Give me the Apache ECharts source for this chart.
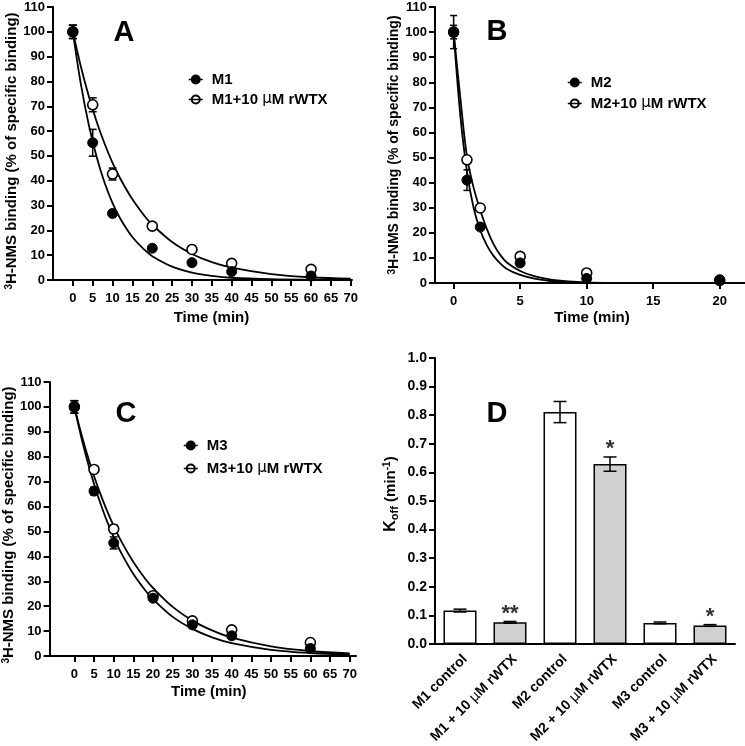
<!DOCTYPE html>
<html><head><meta charset="utf-8">
<script src="https://cdn.jsdelivr.net/npm/echarts@6/dist/echarts.min.js"></script>
<style>html,body{margin:0;padding:0;background:#fff}#c{width:745px;height:746px}</style>
</head><body><div id="c"></div>
<script>
// ---------- Panel A (M1) ----------
const timeAC = [0, 5, 10, 20, 30, 40, 60];
const m1 = [100, 55.3, 26.8, 12.8, 7.0, 3.4, 1.6];
const m1Err = [2.7, 5.4, 0, 0, 0, 0, 0];
const m1Wtx = [100, 70.6, 42.7, 21.7, 12.3, 6.7, 4.3];
const m1WtxErr = [2.7, 2.8, 2.4, 1.2, 0, 0, 0];
const fitTimeAC = [0, 2, 4, 6, 8, 10, 12, 15, 18, 20, 25, 30, 35, 40, 50, 60, 70];
const m1Fit = [100, 79.1, 62.6, 49.6, 39.2, 31.0, 24.6, 17.3, 12.2, 9.6, 5.4, 3.0, 1.7, 0.9, 0.3, 0.1, 0.0];
const m1WtxFit = [100, 86.1, 74.1, 63.8, 54.9, 47.2, 40.7, 32.5, 25.9, 22.3, 15.3, 10.5, 7.2, 5.0, 2.4, 1.1, 0.5];

// ---------- Panel B (M2) ----------
const timeB = [0, 1, 2, 5, 10, 20];
const m2 = [100, 41, 22.3, 8.0, 1.8, 1.3];
const m2Err = [2.7, 4.1, 0, 0, 0, 0];
const m2Wtx = [100, 49.1, 29.9, 10.6, 4.0, 1.0];
const m2WtxErr = [6.6, 0, 0, 0, 0, 0];
const fitTimeB = [0, 0.5, 1, 1.5, 2, 2.5, 3, 3.5, 4, 5, 6, 7, 8, 9, 10, 12];
const m2Fit = [100, 67, 44.5, 30, 21, 15, 10.8, 7.8, 5.6, 3.2, 1.8, 1.0, 0.5, 0.25, 0.1, 0];
const m2WtxFit = [100, 74, 50.5, 38, 29, 21.5, 15.5, 11.2, 8.2, 4.8, 2.8, 1.6, 0.9, 0.5, 0.25, 0.05];

// ---------- Panel C (M3) ----------
const m3 = [100, 66.2, 45.4, 23.2, 12.5, 8.1, 3.0];
const m3Err = [2.5, 1.5, 2.4, 0, 0, 0, 0];
const m3Wtx = [100, 74.9, 51.0, 24.2, 14.1, 10.5, 5.4];
const m3WtxErr = [2.5, 0, 1.5, 0, 0, 0, 0];
const m3Fit = [100, 86.2, 74.4, 64.1, 55.3, 47.7, 41.1, 32.9, 26.4, 22.8, 15.7, 10.9, 7.5, 5.2, 2.5, 1.2, 0.6];
const m3WtxFit = [100, 87.8, 77.1, 67.7, 59.5, 52.2, 45.8, 37.7, 31.0, 27.3, 19.7, 14.2, 10.3, 7.4, 3.9, 2.0, 1.0];

// ---------- Panel D (Koff) ----------
const koffCats = ['M1 control', 'M1 + 10 μM rWTX', 'M2 control', 'M2 + 10 μM rWTX', 'M3 control', 'M3 + 10 μM rWTX'];
const koffVals = [0.117, 0.076, 0.811, 0.629, 0.074, 0.065];
const koffErr = [0.005, 0.003, 0.037, 0.025, 0.003, 0.003];
const koffStars = ['', '**', '', '*', '', '*'];

const timeTicksAC = [0, 5, 10, 15, 20, 25, 30, 35, 40, 45, 50, 55, 60, 65, 70];
const timeTicksB = [0, 5, 10, 15, 20];

const FONT = "'Liberation Sans', Arial, sans-serif";
const BLACK = '#000';

function pairs(xs, ys) { return xs.map((x, i) => [x, ys[i]]); }
function errTriples(xs, ys, es) { return xs.map((x, i) => [x, ys[i], es[i]]).filter(d => d[2] > 0); }

function errRender(capHalf) {
  return function (params, api) {
    const x = api.value(0), y = api.value(1), e = api.value(2);
    const p1 = api.coord([x, y + e]), p2 = api.coord([x, y - e]);
    const st = { stroke: BLACK, lineWidth: 1.5 };
    return { type: 'group', children: [
      { type: 'line', shape: { x1: p1[0], y1: p1[1], x2: p2[0], y2: p2[1] }, style: st },
      { type: 'line', shape: { x1: p1[0] - capHalf, y1: p1[1], x2: p1[0] + capHalf, y2: p1[1] }, style: st },
      { type: 'line', shape: { x1: p2[0] - capHalf, y1: p2[1], x2: p2[0] + capHalf, y2: p2[1] }, style: st }
    ]};
  };
}

function timeAxis(gi, min, max, ticks, gap, padLeft) {
  return {
    type: 'value', gridIndex: gi, min: min, max: max,
    splitLine: { show: false },
    axisLine: { show: true, onZero: false, lineStyle: { color: BLACK, width: 2 } },
    axisTick: { show: true, customValues: ticks, length: 6, lineStyle: { color: BLACK, width: 2 } },
    axisLabel: { customValues: ticks, margin: 12, color: BLACK, fontSize: 13, fontWeight: 'bold', fontFamily: FONT },
    name: 'Time (min)', nameLocation: 'middle', nameGap: gap,
    nameTextStyle: { color: BLACK, fontSize: 15, fontWeight: 'bold', fontFamily: FONT, padding: [0, 0, 0, padLeft] }
  };
}
function bindAxis(gi, gap, fs, padRight) {
  return {
    type: 'value', gridIndex: gi, min: 0, max: 110, interval: 10,
    splitLine: { show: false },
    axisLine: { show: true, onZero: false, lineStyle: { color: BLACK, width: 2 } },
    axisTick: { show: true, length: 6, lineStyle: { color: BLACK, width: 2 } },
    axisLabel: { margin: 8, color: BLACK, fontSize: 13, fontWeight: 'bold', fontFamily: FONT },
    name: '{s|3}{t|H-NMS binding (% of specific binding)}', nameLocation: 'middle', nameGap: gap,
    nameTextStyle: { color: BLACK, fontSize: fs, fontWeight: 'bold', fontFamily: FONT, padding: [0, padRight, 0, 0],
      rich: { s: { fontSize: 10, fontWeight: 'bold', fontFamily: FONT, color: BLACK, verticalAlign: 'top', lineHeight: fs },
              t: { fontSize: fs, fontWeight: 'bold', fontFamily: FONT, color: BLACK, lineHeight: fs } } }
  };
}
function fitSeries(name, gi, xs, ys) {
  return { type: 'line', name: name, xAxisIndex: gi, yAxisIndex: gi, data: pairs(xs, ys), smooth: 0.35,
    showSymbol: false, symbol: 'none', silent: true, lineStyle: { color: BLACK, width: 1.8 }, z: 2 };
}
function errSeries(gi, xs, ys, es, cap) {
  return { type: 'custom', xAxisIndex: gi, yAxisIndex: gi, data: errTriples(xs, ys, es), renderItem: errRender(cap), silent: true, z: 3,
    encode: { x: 0, y: 1 } };
}
function ptSeries(name, gi, xs, ys, open) {
  return { type: 'line', name: name, xAxisIndex: gi, yAxisIndex: gi, data: pairs(xs, ys), symbol: 'circle', symbolSize: 10, showSymbol: true,
    lineStyle: { width: 0, opacity: 0 }, z: open ? 4 : 5,
    itemStyle: open ? { color: '#fff', borderColor: BLACK, borderWidth: 1.6 } : { color: BLACK, borderColor: BLACK, borderWidth: 1 } };
}
function mkLegend(names, left, top, gap) {
  return { orient: 'vertical', left: left, top: top, itemGap: gap, itemWidth: 14, itemHeight: 10, padding: 0, selectedMode: false,
    data: names.map((n, i) => i === 1 ? { name: n, itemStyle: { color: 'rgba(255,255,255,0)' } } : { name: n }),
    lineStyle: { color: BLACK, width: 1.5, opacity: 1 },
    formatter: n => n.replace('μ', '{mu|μ}'),
    textStyle: { color: BLACK, fontSize: 15, fontWeight: 'bold', fontFamily: FONT, padding: [0, 0, 0, 4],
      rich: { mu: { fontSize: 15, fontWeight: 'normal', fontFamily: 'DejaVu Sans', color: BLACK } } } };
}
function letter(t, x, y) {
  return { type: 'text', x: x, y: y, style: { text: t, align: 'center', verticalAlign: 'middle', fontSize: 29, fontWeight: 'bold', fontFamily: FONT, fill: BLACK } };
}

const chart = echarts.init(document.getElementById('c'), null, { renderer: 'canvas' });
const option = {
  animation: false,
  backgroundColor: '#fff',
  grid: [
    { left: 53, top: 7, width: 299, height: 273 },
    { left: 435, top: 7, width: 310, height: 276 },
    { left: 48, top: 382, width: 308, height: 274 },
    { left: 435, top: 358, width: 300, height: 292 }
  ],
  xAxis: [
    timeAxis(0, -5, 70.3, timeTicksAC, 30, 18),
    timeAxis(1, -1.4, 21.9, timeTicksB, 27, 4),
    timeAxis(2, -6.3, 71.6, timeTicksAC, 28, 12),
    { type: 'category', gridIndex: 3, data: koffCats,
      axisLine: { show: true, lineStyle: { color: BLACK, width: 2 } },
      axisTick: { show: false },
      axisLabel: { interval: 0, rotate: 45, margin: 8, verticalAlign: 'top', color: BLACK, fontSize: 14, fontWeight: 'bold', fontFamily: FONT,
        formatter: v => v.replace('μ', '{mu|μ}'),
        rich: { mu: { fontSize: 14, fontWeight: 'normal', fontFamily: 'DejaVu Sans', color: BLACK } } } }
  ],
  yAxis: [
    bindAxis(0, 33, 15, 15), bindAxis(1, 33, 14, 0), bindAxis(2, 31, 15, 12),
    { type: 'value', gridIndex: 3, min: 0, max: 1.0, interval: 0.1,
      splitLine: { show: false },
      axisLine: { show: true, onZero: false, lineStyle: { color: BLACK, width: 2 } },
      axisTick: { show: true, length: 6, lineStyle: { color: BLACK, width: 2 } },
      axisLabel: { margin: 8, color: BLACK, fontSize: 14, fontWeight: 'bold', fontFamily: FONT, formatter: v => v.toFixed(1) },
      name: '{k|K}{o|off}{t| (min}{p|-1}{t|)}', nameLocation: 'middle', nameGap: 35,
      nameTextStyle: { color: BLACK, fontSize: 15, fontWeight: 'bold', fontFamily: FONT, padding: [0, 0, 0, 14],
        rich: { k: { fontSize: 16, fontWeight: 'bold', fontFamily: FONT, color: BLACK, lineHeight: 18 },
                o: { fontSize: 11, fontWeight: 'bold', fontFamily: FONT, color: BLACK, verticalAlign: 'bottom', lineHeight: 18 },
                t: { fontSize: 15, fontWeight: 'bold', fontFamily: FONT, color: BLACK, lineHeight: 18 },
                p: { fontSize: 10, fontWeight: 'bold', fontFamily: FONT, color: BLACK, verticalAlign: 'top', lineHeight: 18 } } } }
  ],
  legend: [
    mkLegend(['M1', 'M1+10 μM rWTX'], 188, 72, 5),
    mkLegend(['M2', 'M2+10 μM rWTX'], 567, 75, 6),
    mkLegend(['M3', 'M3+10 μM rWTX'], 183, 438, 8)
  ],
  graphic: [letter('A', 124, 33), letter('B', 497, 32), letter('C', 126, 414), letter('D', 497, 414)],
  series: [
    fitSeries('M1 fit', 0, fitTimeAC, m1Fit),
    fitSeries('M1+WTX fit', 0, fitTimeAC, m1WtxFit),
    errSeries(0, timeAC, m1Wtx, m1WtxErr, 4),
    errSeries(0, timeAC, m1, m1Err, 4),
    ptSeries('M1+10 μM rWTX', 0, timeAC, m1Wtx, true),
    ptSeries('M1', 0, timeAC, m1, false),

    fitSeries('M2 fit', 1, fitTimeB, m2Fit),
    fitSeries('M2+WTX fit', 1, fitTimeB, m2WtxFit),
    errSeries(1, timeB, m2Wtx, m2WtxErr, 3.5),
    errSeries(1, timeB, m2, m2Err, 3.5),
    ptSeries('M2+10 μM rWTX', 1, timeB, m2Wtx, true),
    ptSeries('M2', 1, timeB, m2, false),

    fitSeries('M3 fit', 2, fitTimeAC, m3Fit),
    fitSeries('M3+WTX fit', 2, fitTimeAC, m3WtxFit),
    errSeries(2, timeAC, m3Wtx, m3WtxErr, 4),
    errSeries(2, timeAC, m3, m3Err, 4),
    ptSeries('M3+10 μM rWTX', 2, timeAC, m3Wtx, true),
    ptSeries('M3', 2, timeAC, m3, false),

    { type: 'bar', name: 'Koff', xAxisIndex: 3, yAxisIndex: 3, barWidth: 33, z: 2,
      data: koffVals.map((v, i) => ({ value: v, itemStyle: { color: i % 2 ? '#d0d0d0' : '#fff' } })),
      itemStyle: { borderColor: BLACK, borderWidth: 1.5 } },
    { type: 'custom', xAxisIndex: 3, yAxisIndex: 3, z: 3, silent: true, encode: { x: 0, y: 1 },
      data: koffVals.map((v, i) => [i, v, koffErr[i]]),
      renderItem: function (params, api) {
        const x = api.value(0), y = api.value(1), e = api.value(2);
        const p1 = api.coord([x, y + e]), p2 = api.coord([x, y - e]);
        const st = { stroke: BLACK, lineWidth: 1.5 };
        const cap = 6.5;
        const star = koffStars[params.dataIndex];
        const ch = [
          { type: 'line', shape: { x1: p1[0], y1: p1[1], x2: p2[0], y2: p2[1] }, style: st },
          { type: 'line', shape: { x1: p1[0] - cap, y1: p1[1], x2: p1[0] + cap, y2: p1[1] }, style: st },
          { type: 'line', shape: { x1: p2[0] - cap, y1: p2[1], x2: p2[0] + cap, y2: p2[1] }, style: st }
        ];
        if (star) ch.push({ type: 'text', x: p1[0], y: p1[1] + 3, style: { text: star, align: 'center', verticalAlign: 'bottom',
          fontSize: 22, fontWeight: 'bold', fontFamily: FONT, fill: '#333' } });
        return { type: 'group', children: ch };
      } }
  ]
};
chart.setOption(option);
</script></body></html>
